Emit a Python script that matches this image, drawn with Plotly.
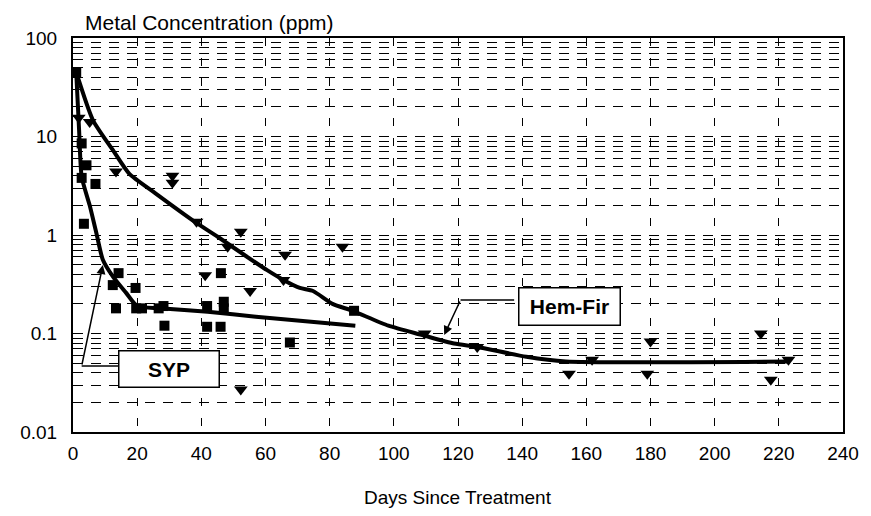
import plotly.graph_objects as go

# Measured metal concentrations (ppm) by days since treatment
syp_days = [1, 2.7, 4.2, 2.7, 7, 3.4, 14.2, 12.4, 19.5, 13.4, 19.7, 21.5, 26.7, 28.2,
            28.5, 41.8, 47, 47, 41.8, 46, 46.1, 67.6, 87.6]
syp_ppm = [45, 8.5, 5.1, 3.8, 3.3, 1.3, 0.41, 0.31, 0.29, 0.18, 0.18, 0.18, 0.18, 0.19,
           0.12, 0.19, 0.21, 0.18, 0.117, 0.117, 0.41, 0.081, 0.17]

hf_days = [1.8, 5.2, 13.4, 31, 31, 38.5, 41.2, 48.2, 52.3, 55.2, 65.6, 66.1, 84, 52.3,
           109.6, 126, 154.6, 161.8, 179, 180, 214.4, 217.5, 223]
hf_ppm = [15.5, 14, 4.4, 4.0, 3.4, 1.36, 0.39, 0.76, 1.08, 0.27, 0.35, 0.63, 0.76, 0.027,
          0.1, 0.073, 0.039, 0.054, 0.039, 0.083, 0.1, 0.034, 0.054]

# Fitted decay curves
syp_fit_days = [1, 1.9, 2.7, 5.2, 7.3, 9.3, 12.4, 16.5, 20, 27, 42, 57, 88]
syp_fit_ppm = [45, 11.6, 3.9, 2.0, 1.04, 0.56, 0.38, 0.26, 0.19, 0.18, 0.166, 0.148, 0.12]

hf_fit_days = [1, 6.2, 12.4, 17.5, 25.7, 38, 45.1, 53.3, 60.5, 65.6, 70.7, 74.8, 80.9,
               87.1, 98.3, 108.6, 118.8, 126, 141.3, 153.6, 223]
hf_fit_ppm = [45, 14.7, 7.3, 4.2, 2.65, 1.36, 0.96, 0.63, 0.44, 0.35, 0.29, 0.27, 0.2,
              0.17, 0.12, 0.097, 0.079, 0.073, 0.058, 0.052, 0.052]

x_ticks = list(range(0, 241, 20))
y_ticks = [0.01, 0.1, 1, 10, 100]
y_ticktext = ["0.01", "0.1", "1", "10", "100"]

FONT = "Liberation Sans, Arial, Helvetica, sans-serif"

fig = go.Figure()

fig.add_trace(go.Scatter(x=syp_fit_days, y=syp_fit_ppm, mode="lines",
                         line=dict(color="black", width=4, shape="spline", smoothing=0.6),
                         hoverinfo="skip", showlegend=False))
fig.add_trace(go.Scatter(x=hf_fit_days, y=hf_fit_ppm, mode="lines",
                         line=dict(color="black", width=4, shape="spline", smoothing=0.6),
                         hoverinfo="skip", showlegend=False))
fig.add_trace(go.Scatter(x=syp_days, y=syp_ppm, mode="markers", name="SYP",
                         marker=dict(symbol="square", size=10, color="black"),
                         showlegend=False))
fig.add_trace(go.Scatter(x=hf_days, y=hf_ppm, mode="markers", name="Hem-Fir",
                         marker=dict(symbol="triangle-down", size=12, color="black"),
                         showlegend=False))

# Callout connectors (box edge -> elbow)
fig.add_trace(go.Scatter(x=[14.4, 2.7], y=[10 ** -1.33, 10 ** -1.33], mode="lines",
                         line=dict(color="black", width=1.5), hoverinfo="skip",
                         showlegend=False))
fig.add_trace(go.Scatter(x=[137.5, 120.8], y=[10 ** -0.66, 10 ** -0.66], mode="lines",
                         line=dict(color="black", width=1.5), hoverinfo="skip",
                         showlegend=False))

annotations = [
    # elbow -> arrow tip
    dict(x=9.3, y=-0.305, ax=2.7, ay=-1.33, xref="x", yref="y", axref="x", ayref="y",
         text="", showarrow=True, arrowhead=2, arrowsize=1.2, arrowwidth=1.5,
         arrowcolor="black"),
    dict(x=115.7, y=-1.015, ax=120.8, ay=-0.66, xref="x", yref="y", axref="x", ayref="y",
         text="", showarrow=True, arrowhead=2, arrowsize=1.2, arrowwidth=1.5,
         arrowcolor="black"),
    dict(x=29.9, y=-1.356, xref="x", yref="y", text="<b>SYP</b>", showarrow=False,
         font=dict(family=FONT, size=21, color="black"), bgcolor="white",
         bordercolor="black", borderwidth=1.5, width=97, height=33, align="center"),
    dict(x=154.6, y=-0.723, xref="x", yref="y", text="<b>Hem-Fir</b>", showarrow=False,
         font=dict(family=FONT, size=21, color="black"), bgcolor="white",
         bordercolor="black", borderwidth=1.5, width=98, height=34, align="center"),
    dict(x=0.0128, y=1.04, xref="paper", yref="paper", xanchor="left", yanchor="middle",
         text="Metal Concentration (ppm)", showarrow=False,
         font=dict(family=FONT, size=21, color="black")),
    dict(x=0.5, y=-0.165, xref="paper", yref="paper", xanchor="center", yanchor="middle",
         text="Days Since Treatment", showarrow=False,
         font=dict(family=FONT, size=19, color="black")),
]

minor_vals = [m * 10.0 ** e for e in range(-2, 2) for m in range(2, 10)]

fig.update_layout(
    width=871, height=516,
    margin=dict(l=73, r=16, t=38, b=84),
    paper_bgcolor="white", plot_bgcolor="white",
    font=dict(family=FONT, size=19, color="black"),
    annotations=annotations,
    xaxis=dict(range=[0, 240], tickmode="array", tickvals=x_ticks, ticks="",
               showgrid=True, gridcolor="black", gridwidth=1, griddash="8px,12px",
               showline=True, linecolor="black", linewidth=2, mirror=True,
               zeroline=False, ticklabelstandoff=3,
               tickfont=dict(family=FONT, size=19, color="black")),
    yaxis=dict(type="log", range=[-2, 2], tickmode="array", tickvals=y_ticks,
               ticktext=y_ticktext, ticks="",
               showgrid=True, gridcolor="black", gridwidth=1, griddash="10px,8px",
               minor=dict(tickmode="array", tickvals=minor_vals, showgrid=True,
                          gridcolor="black", gridwidth=1, griddash="10px,8px", ticks=""),
               showline=True, linecolor="black", linewidth=2, mirror=True,
               zeroline=False, ticklabelstandoff=10,
               tickfont=dict(family=FONT, size=19, color="black")),
)

fig.write_html("out.html")
